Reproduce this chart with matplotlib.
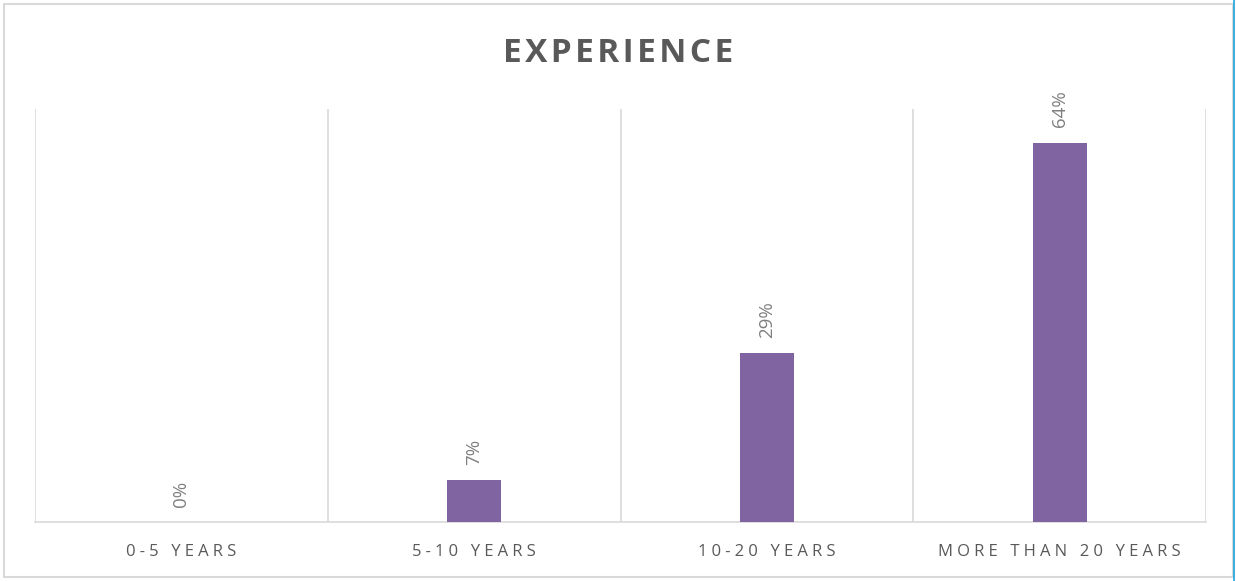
import matplotlib
matplotlib.use('Agg')
import matplotlib.pyplot as plt
from matplotlib.patches import Rectangle
from matplotlib.lines import Line2D

# Share of respondents by years of experience (9/14, 4/14, 1/14)
categories = ['0-5 YEARS', '5-10 YEARS', '10-20 YEARS', 'MORE THAN 20 YEARS']
shares = [0.0, 7.14, 28.57, 64.29]
labels = ['0%', '7%', '29%', '64%']

plt.rcParams['font.family'] = ['Open Sans', 'DejaVu Sans']


def tracked(s, gap):
    # widen letter spacing by putting a narrow space between characters
    return gap.join(s)


fig = plt.figure(figsize=(12.36, 5.81), dpi=100)
ax = fig.add_axes([35 / 1236, 59 / 581, 1171 / 1236, 413 / 581])

x = list(range(len(categories)))
ax.bar(x, shares, width=0.185, color='#8064A2', zorder=3)

for xi, v, lab in zip(x, shares, labels):
    ax.annotate(lab, (xi, v), xytext=(0, 11), textcoords='offset points',
                rotation=90, ha='center', va='bottom', fontsize=13.5,
                color='#7f7f7f')

ax.set_xlim(-0.5, len(categories) - 0.5)
ax.set_ylim(0, 70)

# vertical separators between categories
for b in [i - 0.5 for i in range(len(categories) + 1)]:
    ax.axvline(b, color='#d9d9d9', lw=1.2, zorder=1)

for s in ['top', 'left', 'right']:
    ax.spines[s].set_visible(False)
ax.spines['bottom'].set_color('#d9d9d9')
ax.spines['bottom'].set_linewidth(1.2)

ax.set_yticks([])
ax.set_xticks(x)
ax.set_xticklabels([tracked(c, '\u2005') for c in categories],
                   fontsize=12, color='#595959')
ax.tick_params(axis='x', length=0, pad=16)

fig.text(0.5, 0.908, tracked('EXPERIENCE', '\u200a'), ha='center',
         va='center', fontsize=24, fontweight='bold', color='#595959')

# chart frame
fig.patches.append(Rectangle((4 / 1236, 4 / 581), 1229 / 1236, 573 / 581,
                             transform=fig.transFigure, fill=False,
                             edgecolor='#d9d9d9', lw=1.5))
fig.lines.append(Line2D([1234 / 1236, 1234 / 1236], [0, 1],
                        transform=fig.transFigure, color='#1aa3e0', lw=1.2))

fig.savefig('out.png', dpi=100)
